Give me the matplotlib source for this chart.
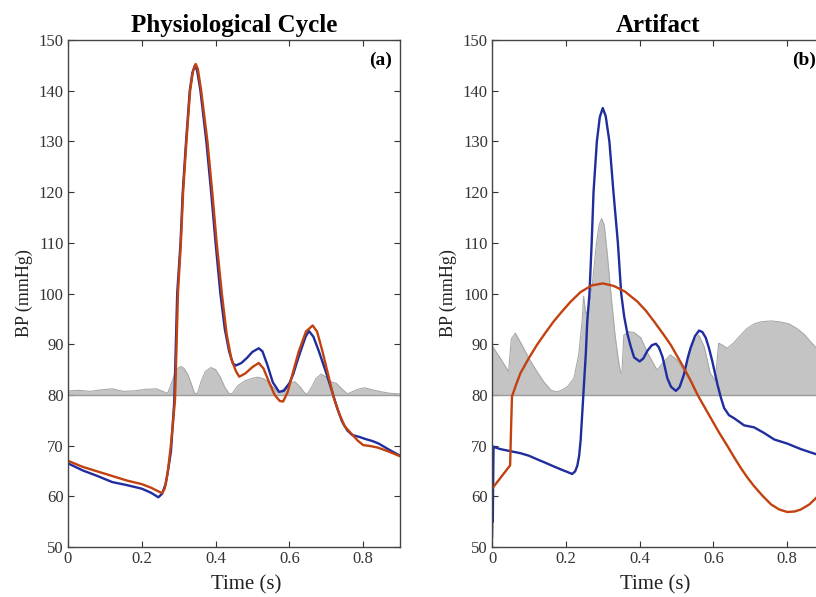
import matplotlib
matplotlib.use('Agg')
import matplotlib.pyplot as plt

plt.rcParams['font.family'] = ['Liberation Serif', 'DejaVu Serif']

# Panel (a): physiological cycle
a_blue_t = [0, 0.04, 0.08, 0.12, 0.16, 0.2, 0.225, 0.245, 0.255, 0.265, 0.272, 0.279, 0.288, 0.292,
            0.296, 0.305, 0.311, 0.32, 0.33, 0.337, 0.344, 0.35, 0.359, 0.375, 0.388, 0.40, 0.413,
            0.425, 0.437, 0.447, 0.455, 0.47, 0.485, 0.5, 0.517, 0.527, 0.54, 0.555, 0.572, 0.585,
            0.6, 0.61, 0.625, 0.644, 0.653, 0.665, 0.68, 0.7, 0.716, 0.73, 0.743, 0.757, 0.77,
            0.79, 0.806, 0.825, 0.842, 0.87, 0.9]
a_blue_v = [66.5, 65.1, 64.0, 62.8, 62.2, 61.5, 60.7, 59.8, 60.5, 62.5, 65.5, 68.8, 78.7, 89,
            100, 110, 120, 130, 140, 143.5, 145, 144, 140, 130, 120, 110, 100,
            93, 88.5, 86.2, 85.8, 86.3, 87.3, 88.5, 89.2, 88.6, 86, 82.5, 80.6, 80.8,
            82.3, 84, 87.5, 91.5, 92.6, 91.5, 88.6, 84.3, 80.6, 77.3, 74.7, 73, 72.1,
            71.7, 71.3, 70.9, 70.4, 69.2, 68]

a_red_t = [0, 0.04, 0.08, 0.12, 0.16, 0.2, 0.225, 0.247, 0.255, 0.262, 0.27, 0.278, 0.284, 0.29,
           0.294, 0.298, 0.306, 0.312, 0.321, 0.331, 0.339, 0.346, 0.352, 0.361, 0.378, 0.391,
           0.403, 0.417, 0.43, 0.443, 0.455, 0.464, 0.48, 0.5, 0.517, 0.53, 0.545, 0.56, 0.574,
           0.583, 0.595, 0.61, 0.625, 0.645, 0.663, 0.675, 0.69, 0.705, 0.72, 0.735, 0.75, 0.77,
           0.785, 0.8, 0.82, 0.84, 0.87, 0.9]
a_red_v = [67.0, 65.8, 64.9, 64.0, 63.1, 62.4, 61.7, 60.9, 60.6, 61.5, 64.5, 69.5, 74, 79,
           89, 100, 110, 120, 130, 140, 144, 145.3, 144.3, 140, 130, 120,
           110, 100, 92, 87, 84.7, 83.6, 84.2, 85.5, 86.3, 85.2, 82.5, 80, 78.8,
           78.7, 80.5, 84.5, 88.5, 92.5, 93.7, 92.5, 88.5, 84, 79.5, 76.3, 73.8, 72.2,
           71.0, 70.1, 69.9, 69.6, 68.8, 67.9]

a_gray_t = [0, 0.03, 0.06, 0.09, 0.12, 0.15, 0.18, 0.21, 0.24, 0.26, 0.27, 0.28, 0.29, 0.3, 0.306,
            0.315, 0.325, 0.335, 0.343, 0.351, 0.36, 0.372, 0.387, 0.4, 0.413, 0.425, 0.437,
            0.445, 0.46, 0.48, 0.5, 0.515, 0.53, 0.545, 0.56, 0.572, 0.585, 0.6, 0.615, 0.63,
            0.64, 0.648, 0.66, 0.672, 0.686, 0.7, 0.715, 0.727, 0.742, 0.757, 0.77, 0.785,
            0.804, 0.825, 0.85, 0.875, 0.9]
a_gray_v = [80.8, 80.9, 80.7, 81.0, 81.2, 80.7, 80.8, 81.1, 81.2, 80.6, 80.3, 82.2, 84.3, 85.4, 85.6,
            85.2, 84, 82, 80.3, 80.3, 82.5, 84.6, 85.4, 85, 83.5, 81.5, 80.2,
            80.3, 81.8, 82.8, 83.3, 83.5, 83.2, 82.4, 81.2, 80.5, 81.2, 82.4, 82.6, 81.5,
            80.5, 80.1, 81.5, 83.2, 84.1, 83.5, 82.5, 82.3, 81.2, 80.2, 80.6, 81.1,
            81.4, 81.0, 80.6, 80.3, 80.2]

# Panel (b): artifact
b_blue_t = [0, 0.001, 0.002, 0.003, 0.004, 0.01, 0.023, 0.05, 0.077, 0.1, 0.122, 0.145, 0.167,
            0.19, 0.204, 0.217, 0.225, 0.231, 0.236, 0.24, 0.245, 0.249, 0.254, 0.258, 0.264,
            0.27, 0.275, 0.284, 0.292, 0.3, 0.308, 0.318, 0.329, 0.341, 0.35, 0.358, 0.367,
            0.376, 0.385, 0.4, 0.41, 0.421, 0.433, 0.444, 0.452, 0.462, 0.475, 0.485, 0.498,
            0.508, 0.52, 0.53, 0.538, 0.55, 0.561, 0.57, 0.579, 0.588, 0.597, 0.611, 0.62,
            0.629, 0.642, 0.656, 0.683, 0.71, 0.737, 0.765, 0.8, 0.837, 0.87, 0.9]
b_blue_v = [52, 58, 55, 63, 69.8, 69.6, 69.3, 68.9, 68.5, 68.0, 67.3, 66.6, 65.9,
            65.2, 64.8, 64.4, 64.9, 66, 68, 71, 77, 82, 88, 94.5, 100,
            110, 120, 130, 134.8, 136.6, 135, 130, 120, 110, 100, 95.5, 92,
            89.5, 87.4, 86.6, 87.2, 88.7, 89.8, 90.1, 89.4, 87.5, 83.3, 81.6, 80.8,
            81.5, 84, 87.2, 89.3, 91.6, 92.7, 92.4, 91.3, 89.2, 86.6, 82, 79.5,
            77.4, 76, 75.4, 74, 73.6, 72.5, 71.2, 70.4, 69.3, 68.5, 67.8]

b_red_t = [0, 0.049, 0.051, 0.054, 0.065, 0.077, 0.1, 0.122, 0.145, 0.167, 0.19, 0.213, 0.24,
           0.27, 0.3, 0.33, 0.36, 0.394, 0.417, 0.439, 0.462, 0.484, 0.502, 0.52, 0.539, 0.557,
           0.575, 0.593, 0.615, 0.638, 0.656, 0.674, 0.692, 0.71, 0.733, 0.756, 0.778, 0.8,
           0.82, 0.837, 0.86, 0.88, 0.9]
b_red_v = [61.5, 66.1, 72, 79.7, 82.0, 84.3, 87.3, 89.9, 92.3, 94.5, 96.5, 98.4, 100.3,
           101.6, 102.0, 101.5, 100.4, 98.4, 96.6, 94.5, 92.2, 89.9, 87.6, 85.3, 82.7, 80.0,
           77.7, 75.4, 72.6, 69.9, 67.7, 65.6, 63.7, 62.0, 60.1, 58.4, 57.4, 56.9,
           57.0, 57.4, 58.4, 59.8, 61.3]

b_gray_t = [0, 0.02, 0.045, 0.052, 0.063, 0.08, 0.1, 0.12, 0.14, 0.16, 0.176, 0.19, 0.204, 0.222,
            0.235, 0.244, 0.248, 0.254, 0.262, 0.272, 0.283, 0.29, 0.297, 0.304, 0.312, 0.322,
            0.333, 0.342, 0.348, 0.352, 0.357, 0.37, 0.385, 0.403, 0.42, 0.435, 0.447, 0.465,
            0.483, 0.5, 0.519, 0.537, 0.55, 0.56, 0.575, 0.591, 0.605, 0.614, 0.625, 0.637,
            0.654, 0.67, 0.691, 0.71, 0.727, 0.755, 0.781, 0.805, 0.826, 0.845, 0.862, 0.878, 0.9]
b_gray_v = [89.7, 87.5, 84.6, 91.0, 92.2, 90.0, 87.2, 84.8, 82.6, 80.9, 80.6, 81.0, 81.6, 83.3,
            88, 94.5, 99.5, 96, 97, 102, 110, 113.5, 114.8, 113.5, 108, 100,
            92, 87, 84.5, 84.3, 91.8, 92.5, 92.3, 91.3, 88.5, 86.5, 84.9, 86.5,
            87.9, 87.0, 84.9, 88.2, 90.8, 91.8, 89.5, 84.3, 82.9, 90.2, 89.8, 89.2,
            90.2, 91.5, 93.1, 94.0, 94.4, 94.6, 94.4, 94.0, 93.1, 92.0, 90.6, 89.3, 87.0]

BASE = 80
BLUE = '#1f2d9e'
RED = '#c2410f'


def draw_panel(ax, title, tag, xlabel_x, gray_t, gray_v, blue_t, blue_v, red_t, red_v):
    ax.fill_between(gray_t, BASE, gray_v, color='#c4c4c4', lw=0)
    ax.plot(gray_t, gray_v, color='#a8a8a8', lw=0.8)
    ax.axhline(BASE, color='#9a9a9a', lw=1.0)
    ax.plot(blue_t, blue_v, color=BLUE, lw=1.7)
    ax.plot(red_t, red_v, color=RED, lw=1.7)

    ax.set_xlim(0, 0.9)
    ax.set_ylim(50, 150)
    ax.set_xticks([0, 0.2, 0.4, 0.6, 0.8])
    ax.set_xticklabels(['0', '0.2', '0.4', '0.6', '0.8'])
    ax.set_yticks(range(50, 151, 10))
    ax.tick_params(direction='in', top=True, right=True, length=4, width=0.8,
                   labelsize=12, colors='#333333', labelcolor='#333333', pad=3)
    for s in ax.spines.values():
        s.set_color('#444444')
        s.set_linewidth(1.0)
    ax.set_xlabel('Time (s)', fontsize=15, color='#222222')
    ax.xaxis.set_label_coords(xlabel_x, -0.055)
    ax.set_ylabel('BP (mmHg)', fontsize=13, color='#222222')
    ax.set_title(title, fontsize=18, fontweight='bold', pad=6)
    ax.text(0.976, 0.96, tag, transform=ax.transAxes, ha='right', va='center',
            fontsize=14, fontweight='bold')


fig = plt.figure(figsize=(8.16, 5.97), dpi=100)
ax1 = fig.add_axes([0.0833, 0.0838, 0.407, 0.849])
ax2 = fig.add_axes([0.603, 0.0838, 0.407, 0.849])

draw_panel(ax1, 'Physiological Cycle', '(a)', 0.536,
           a_gray_t, a_gray_v, a_blue_t, a_blue_v, a_red_t, a_red_v)
draw_panel(ax2, 'Artifact', '(b)', 0.49,
           b_gray_t, b_gray_v, b_blue_t, b_blue_v, b_red_t, b_red_v)

fig.savefig('out.png', dpi=100)
